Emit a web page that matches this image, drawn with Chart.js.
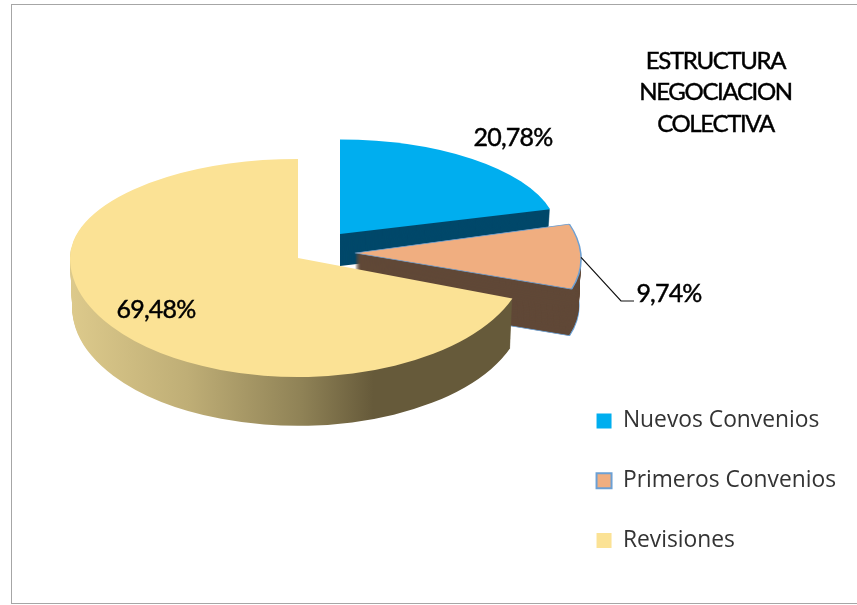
<!DOCTYPE html>
<html>
<head>
<meta charset="utf-8">
<title>Estructura negociacion colectiva</title>
<script src="https://cdn.jsdelivr.net/npm/chart.js@4"></script>
<style>
  html, body { margin: 0; padding: 0; background: #fff; overflow: hidden; }
  #wrap { position: relative; width: 857px; height: 605px; }
  #frame { position: absolute; left: 11px; top: 4px; width: 860px; height: 598px; border: 1.5px solid #a6a6a6; box-sizing: content-box; }
  canvas { position: absolute; left: 0; top: 0; }
</style>
</head>
<body>
<div id="wrap">
  <div id="frame"></div>
  <canvas id="pie" width="857" height="605"></canvas>
</div>
<script>
const categories = ['Nuevos Convenios', 'Primeros Convenios', 'Revisiones'];
const shares = [20.78, 9.74, 69.48];
const titleLines = ['ESTRUCTURA', 'NEGOCIACION', 'COLECTIVA'];

const topColors = ['#00aeef', '#f0ae80', '#fbe295'];
const legendBorders = ['#00aeef', '#6ca0d4', '#ffe699'];
const wallColors = ['#00486a', '#604837', null];

// fake 3D set up: squashed pie (back half flatter than front = perspective),
// exploded slices, extruded walls
const RADIUS = 228;
const slices = [
  { cx: 340, cy: 234, scale: 0.955, up: 0.434, down: 0.47, skew: 0, depth: 32, border: 0 },
  { cx: 355, cy: 253, scale: 0.99, up: 0.49, down: 0.47, skew: 0.12, depth: 47, border: 1.6 },
  { cx: 298, cy: 258, scale: 1, up: 0.434, down: 0.522, skew: 0, depth: 50, border: 0 }
];
const labelSpots = [[513, 138], [669, 294], [156, 310]];

function pct(v) { return v.toFixed(2).replace('.', ',') + '%'; }

function place(ctx, arc, s, drop, squash) {
  const taper = 1 - 0.01 * drop / s.depth;
  ctx.translate(s.cx, s.cy + drop);
  // keep only the half of the slice this squash belongs to
  ctx.beginPath();
  if (squash === s.up) ctx.rect(-1000, -1000, 2000, 1000);
  else ctx.rect(-1000, 0, 2000, 1000);
  ctx.clip();
  ctx.transform(1, 0, s.skew, 1, 0, 0);
  ctx.scale(s.scale * taper, s.scale * taper * squash);
  ctx.translate(-arc.x, -arc.y);
}

function yellowWall(ctx, arc, s) {
  // horizontal shading of the big slice wall, in slice coords
  const g = ctx.createLinearGradient(arc.x + 72 - s.cx, 0, arc.x + 400 - s.cx, 0);
  g.addColorStop(0, '#dcc98b');
  g.addColorStop(0.35, '#bfae76');
  g.addColorStop(0.7, '#8f8256');
  g.addColorStop(0.92, '#665a3a');
  g.addColorStop(1, '#665a3a');
  return g;
}

function drawGhost(ctx, arc, fill, border, width) {
  const ghost = Object.create(arc);
  ghost.options = Object.assign({}, arc.options, {
    backgroundColor: fill, borderColor: border, borderWidth: width, offset: 0, spacing: 0
  });
  Chart.ArcElement.prototype.draw.call(ghost, ctx);
}

function drawLayer(ctx, arc, s, drop, fill, border, width) {
  [s.up, s.down].forEach(squash => {
    ctx.save();
    place(ctx, arc, s, drop, squash);
    drawGhost(ctx, arc, fill || yellowWall(ctx, arc, s), border, width);
    ctx.restore();
  });
}

// a hair of stroke so Lato sits closer to the heavier original text
function heavyText(ctx, t, x, y) {
  ctx.fillText(t, x, y);
  ctx.strokeText(t, x, y);
}

const pie3d = {
  id: 'pie3d',
  beforeDatasetsDraw(chart) {
    const ctx = chart.ctx;
    const arcs = chart.getDatasetMeta(0).data;
    arcs.forEach((arc, i) => {
      const s = slices[i];
      const edge = s.border ? '#6ca0d4' : '#000';
      for (let d = s.depth; d > 0; d--) {
        drawLayer(ctx, arc, s, d, wallColors[i], edge, d === s.depth ? s.border : 0);
      }
      drawLayer(ctx, arc, s, 0, topColors[i], edge, s.border);
    });
    return false;
  },
  afterDraw(chart) {
    const ctx = chart.ctx;
    const arcs = chart.getDatasetMeta(0).data;
    ctx.save();
    ctx.fillStyle = '#000';
    ctx.textAlign = 'center';
    ctx.textBaseline = 'middle';

    // leader for the small slice
    const a = arcs[1], s = slices[1];
    const mid = (a.startAngle + a.endAngle) / 2;
    const r = a.outerRadius * s.scale;
    const dy = Math.sin(mid) * r * s.down;
    ctx.strokeStyle = '#111';
    ctx.lineWidth = 1.2;
    ctx.beginPath();
    ctx.moveTo(s.cx + Math.cos(mid) * r + s.skew * dy, s.cy + dy);
    ctx.lineTo(621, 301);
    ctx.lineTo(634, 301);
    ctx.stroke();

    ctx.strokeStyle = '#000';
    ctx.lineWidth = 0.45;
    ctx.font = '25px Lato';
    ctx.letterSpacing = '-0.8px';
    shares.forEach((v, i) => heavyText(ctx, pct(v), labelSpots[i][0], labelSpots[i][1]));

    ctx.font = '24px Lato';
    ctx.letterSpacing = '-1.35px';
    titleLines.forEach((t, i) => heavyText(ctx, t, 715.5, 61 + i * 31.5));
    ctx.restore();
  }
};

new Chart(document.getElementById('pie'), {
  type: 'pie',
  data: {
    labels: categories,
    datasets: [{
      data: shares,
      backgroundColor: topColors,
      borderColor: legendBorders,
      borderWidth: [0, 2, 0]
    }]
  },
  options: {
    responsive: false,
    animation: false,
    radius: RADIUS,
    layout: { padding: { top: 10, right: 11, bottom: 16, left: 10 } },
    plugins: {
      tooltip: { enabled: false },
      legend: {
        position: 'right',
        align: 'end',
        labels: {
          boxWidth: 15,
          boxHeight: 15,
          padding: 37,
          color: '#333',
          font: { family: 'Open Sans', size: 22.8 }
        }
      }
    }
  },
  plugins: [pie3d]
});
</script>
</body>
</html>
